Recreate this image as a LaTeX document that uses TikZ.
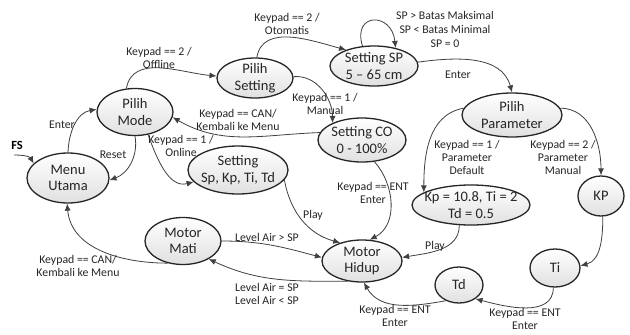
\documentclass[tikz,border=0pt]{standalone}
\usepackage{fontspec}
\setmainfont{Carlito}
\usetikzlibrary{shapes.geometric,arrows.meta}
\begin{document}
\begin{tikzpicture}[x=1pt,y=1pt]
\tikzset{
  state/.style={ellipse, draw=black!85, line width=1.3pt, top color=white, bottom color=black!12, inner sep=0pt},
  stxt/.style={font=\fontsize{14.5}{16.5}\selectfont, align=center, text=black!85, inner sep=0pt},
  lbl/.style={font=\fontsize{11.8}{13}\selectfont, align=center, text=black!85, inner sep=0pt},
  edge/.style={draw=black!75, line width=0.8pt, -{Latex[length=7pt,width=6pt]}},
}
\path[use as bounding box, fill=white] (0,0) rectangle (630,-335);

% states
\node[state, minimum width=82, minimum height=50, label={[stxt]center:Menu\\Utama}] (mu) at (68,-178) {};
\node[state, minimum width=76, minimum height=47, label={[stxt]center:Pilih\\Mode}] (pm) at (135,-112) {};
\node[state, minimum width=76, minimum height=40, label={[stxt]center:Pilih\\Setting}] (ps) at (255,-78) {};
\node[state, minimum width=88, minimum height=40, label={[stxt]center:Setting SP\\5 -- 65 cm}] (sp) at (374,-66) {};
\node[state, minimum width=88, minimum height=44, label={[stxt]center:Setting CO\\0 - 100\%}] (co) at (362,-140) {};
\node[state, minimum width=100, minimum height=44, label={[stxt]center:Pilih\\Parameter}] (pp) at (512,-115) {};
\node[state, minimum width=100, minimum height=48, label={[stxt]center:Setting\\Sp, Kp, Ti, Td}] (ss) at (238,-170) {};
\node[state, minimum width=76, minimum height=47, label={[stxt]center:Motor\\Mati}] (mm) at (183,-241) {};
\node[state, minimum width=80, minimum height=42, label={[stxt]center:Motor\\Hidup}] (mh) at (362,-261) {};
\node[state, minimum width=118, minimum height=40, label={[stxt]center:Kp = 10.8, Ti = 2\\Td = 0.5}] (kd) at (471,-205) {};
\node[state, minimum width=46, minimum height=40, label={[stxt]center:KP}] (kp) at (601,-196) {};
\node[state, minimum width=50, minimum height=38, label={[stxt]center:Ti}] (ti) at (555,-268) {};
\node[state, minimum width=48, minimum height=36, label={[stxt]center:Td}] (td) at (459,-285) {};

% initial
\node[font=\bfseries\fontsize{12.5}{13}\selectfont, inner sep=0pt] (fs) at (17,-145) {FS};
\coordinate (fsin) at (14,-155);
\draw[edge] (fsin) to[out=0,in=120] (mu.157);

% edges
\draw[edge] (mu.north) to[out=88,in=190] (pm.176);
\draw[edge] (pm.-90) to[out=-80,in=20] (mu.-3);
\draw[edge] (pm.110) to[out=80,in=175] (ps.177);
\draw[edge] (pm.-60) to[out=-70,in=195] (ss.195);
\draw[edge] (co.170) to[out=182,in=-30] (pm.-8);
\draw[edge] (ps.85) to[out=80,in=165] (sp.150);
\draw[edge] (ps.2) to[out=5,in=90] (co.150);
\draw[edge] (sp.120) .. controls (352,-12) and (392,-12) .. (sp.40);
\draw[edge] (sp.5) to[out=8,in=105] (pp.north);
\draw[edge] (pp.172) to[out=190,in=90] (kd.165);
\draw[edge] (pp.8) to[out=0,in=90] (kp.north);
\draw[edge] (co.-60) .. controls (395,-185) and (398,-225) .. (mh.70);
\draw[edge] (ss.-12) to[out=-80,in=165] (mh.140);
\draw[edge] (kd.-120) to[out=-90,in=10] (mh.5);
\draw[edge] (mm.east) to[out=0,in=165] (mh.175);
\draw[edge] (mh.-125) to[out=180,in=-25] (mm.-35);
\draw[edge] (mm.-125) to[out=180,in=-85] (mu.-92);
\draw[edge] (kp.-85) to[out=-90,in=15] (ti.5);
\draw[edge] (ti.-95) to[out=-90,in=-15] (td.-40);
\draw[edge] (td.-130) to[out=190,in=-60] (mh.-85);

% labels
\node[lbl] (l1) at (62,-125) {Enter};
\node[lbl] (l2) at (113,-155) {Reset};
\node[lbl] (l3) at (159,-57.5) {Keypad == 2 /\\Offline};
\node[lbl] (l4) at (181,-146) {Keypad == 1 /\\Online};
\node[lbl] (l5) at (238,-119.5) {Keypad == CAN/\\Kembali ke Menu};
\node[lbl] (l6) at (287,-24) {Keypad == 2 /\\Otomatis};
\node[lbl] (l7) at (325,-104) {Keypad == 1 /\\Manual};
\node[lbl, font=\fontsize{11.8}{14}\selectfont] (l8) at (445,-29) {SP > Batas Maksimal\\SP < Batas Minimal\\SP = 0};
\node[lbl] (l9) at (458,-75) {Enter};
\node[lbl] (l10) at (467,-157) {Keypad == 1 /\\Parameter\\Default};
\node[lbl] (l11) at (563,-157) {Keypad == 2 /\\Parameter\\Manual};
\node[lbl] (l12) at (373,-193) {Keypad == ENT\\Enter};
\node[lbl] (l13) at (313,-215) {Play};
\node[lbl] (l14) at (435,-246) {Play};
\node[lbl] (l15) at (267,-237) {Level Air > SP};
\node[lbl] (l16) at (267,-294) {Level Air = SP\\Level Air < SP};
\node[lbl] (l17) at (78,-266) {Keypad == CAN/\\Kembali ke Menu};
\node[lbl] (l18) at (525,-319) {Keypad == ENT\\Enter};
\node[lbl] (l19) at (395,-316) {Keypad == ENT\\Enter};
\end{tikzpicture}
\end{document}
